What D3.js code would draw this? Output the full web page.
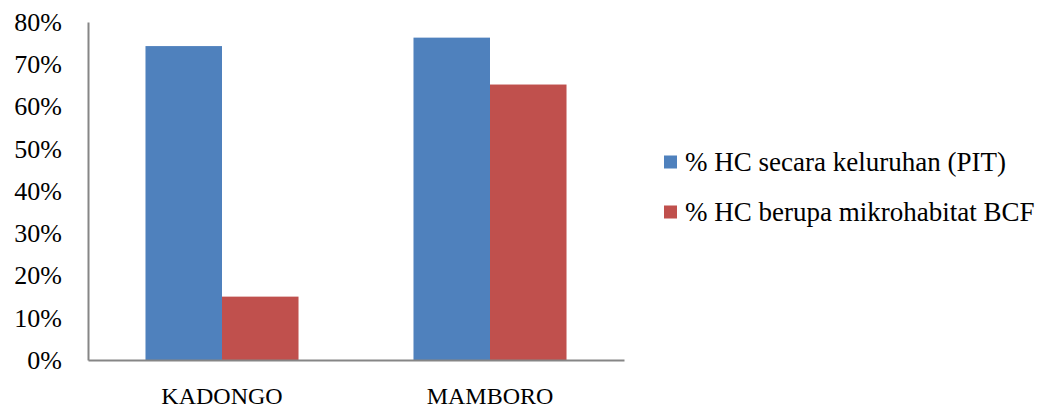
<!DOCTYPE html>
<html>
<head>
<meta charset="utf-8">
<script src="https://cdn.jsdelivr.net/npm/d3@7"></script>
<style>
  body { margin: 0; background: #fff; }
  svg { display: block; }
</style>
</head>
<body>
<script>
// data
let categories = ["KADONGO", "MAMBORO"];
let seriesNames = ["% HC secara keluruhan (PIT)", "% HC berupa mikrohabitat BCF"];
let pitValues = [0.743, 0.763];
let bcfValues = [0.150, 0.652];
let yTicks = [0, 0.1, 0.2, 0.3, 0.4, 0.5, 0.6, 0.7, 0.8];
let colors = ["#4F81BD", "#C0504D"];

let width = 1046;
let height = 409;
let marginTop = 22;
let marginLeft = 88;
let plotRight = 624;
let plotBottom = 360;
let font = "'Liberation Serif', 'Times New Roman', serif";

let rows = categories.map((c, i) => ({ category: c, values: [pitValues[i], bcfValues[i]] }));

let svg = d3.select("body").append("svg")
    .attr("width", width)
    .attr("height", height)
    .attr("viewBox", [0, 0, width, height]);

// scales
let x0 = d3.scaleBand()
    .domain(categories)
    .range([marginLeft, plotRight])
    .paddingInner(0.429)
    .paddingOuter(0.2145);

let x1 = d3.scaleBand()
    .domain([0, 1])
    .range([0, x0.bandwidth()]);

let y = d3.scaleLinear()
    .domain([0, 0.8])
    .range([plotBottom, marginTop]);

// bars
svg.append("g")
  .selectAll("g")
  .data(rows)
  .join("g")
    .attr("transform", d => `translate(${x0(d.category)},0)`)
  .selectAll("rect")
  .data(d => d.values.map((v, i) => ({ i: i, v: v })))
  .join("rect")
    .attr("x", d => x1(d.i))
    .attr("y", d => y(d.v))
    .attr("width", x1.bandwidth())
    .attr("height", d => y(0) - y(d.v))
    .attr("fill", d => colors[d.i]);

// y axis
svg.append("g")
    .attr("transform", `translate(${marginLeft},0)`)
    .call(d3.axisLeft(y).tickValues(yTicks).tickFormat(d3.format(".0%")).tickSize(0).tickPadding(26))
    .call(g => g.select(".domain").attr("stroke", "#868686").attr("stroke-width", 2))
    .call(g => g.selectAll("text")
        .attr("fill", "#000")
        .style("font-family", font)
        .style("font-size", "26px"));

// x axis
svg.append("g")
    .attr("transform", `translate(0,${plotBottom})`)
    .call(d3.axisBottom(x0).tickSize(0).tickPadding(27))
    .call(g => g.select(".domain").attr("stroke", "#868686").attr("stroke-width", 2))
    .call(g => g.selectAll("text")
        .attr("fill", "#000")
        .style("font-family", font)
        .style("font-size", "24px"));

// legend
let legend = svg.append("g")
  .selectAll("g")
  .data(seriesNames)
  .join("g")
    .attr("transform", (d, i) => `translate(664,${162 + i * 50})`);

legend.append("rect")
    .attr("x", 0)
    .attr("y", -6.5)
    .attr("width", 13)
    .attr("height", 13)
    .attr("fill", (d, i) => colors[i]);

legend.append("text")
    .attr("x", 21)
    .attr("y", 9)
    .attr("fill", "#000")
    .style("font-family", font)
    .style("font-size", "27px")
    .text(d => d);
</script>
</body>
</html>
